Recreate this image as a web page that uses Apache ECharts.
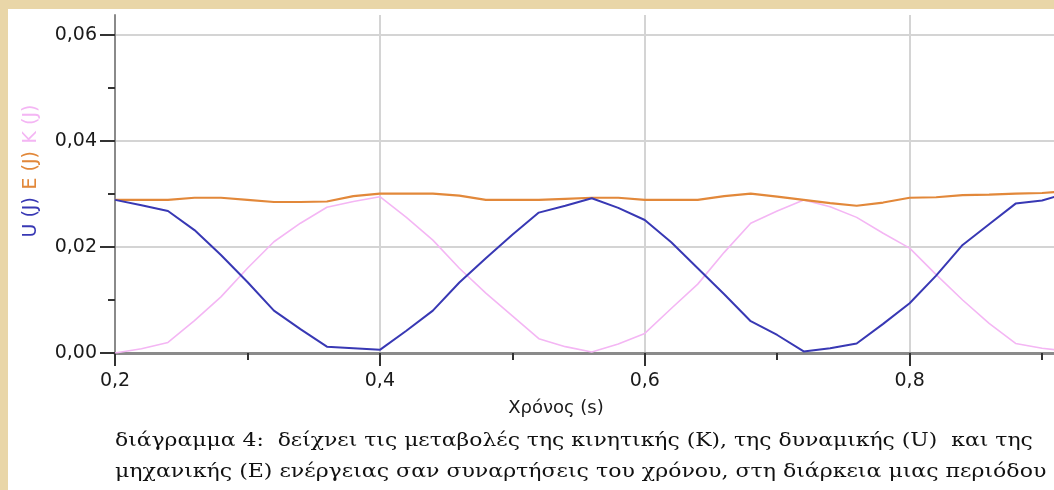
<!DOCTYPE html>
<html><head><meta charset="utf-8">
<script src="https://cdn.jsdelivr.net/npm/echarts@6/dist/echarts.min.js"></script>
<style>
html,body{margin:0;padding:0;width:1054px;height:490px;overflow:hidden;background:#e9d6a8;}
#panel{position:absolute;left:8px;top:9px;width:1046px;height:481px;background:#ffffff;}
#chart{position:absolute;left:0;top:0;width:1054px;height:490px;}
</style></head><body>
<div id="panel"></div>
<div id="chart"></div>
<script>
// time (s)
const time = [0.20,0.22,0.24,0.26,0.28,0.30,0.32,0.34,0.36,0.38,0.40,0.42,0.44,0.46,0.48,0.50,0.52,0.54,0.56,0.58,0.60,0.62,0.64,0.66,0.68,0.70,0.72,0.74,0.76,0.78,0.80,0.82,0.84,0.86,0.88,0.90,0.91];
// potential energy U (J)
const potentialU = [0.0289,0.0279,0.0268,0.0232,0.0185,0.0134,0.0080,0.0045,0.0012,0.0009,0.0006,0.0042,0.0080,0.0133,0.0179,0.0223,0.0265,0.0278,0.0292,0.0274,0.0251,0.0209,0.0160,0.0111,0.0060,0.0034,0.0003,0.0009,0.0018,0.0055,0.0094,0.0146,0.0204,0.0243,0.0282,0.0288,0.0295];
// kinetic energy K (J)
const kineticK = [0.0000,0.0008,0.0020,0.0061,0.0106,0.0160,0.0210,0.0245,0.0275,0.0286,0.0295,0.0256,0.0213,0.0160,0.0113,0.0070,0.0027,0.0012,0.0002,0.0017,0.0037,0.0084,0.0130,0.0190,0.0245,0.0268,0.0289,0.0276,0.0256,0.0226,0.0198,0.0148,0.0100,0.0056,0.0018,0.0009,0.0006];
// mechanical energy E (J)
const mechanicalE = [0.0289,0.0289,0.0289,0.0293,0.0293,0.0289,0.0285,0.0285,0.0286,0.0296,0.0301,0.0301,0.0301,0.0297,0.0289,0.0289,0.0289,0.0291,0.0293,0.0293,0.0289,0.0289,0.0289,0.0296,0.0301,0.0295,0.0289,0.0283,0.0278,0.0284,0.0293,0.0294,0.0298,0.0299,0.0301,0.0302,0.0304];

const xMajorTicks = [0.2,0.4,0.6,0.8];
const xMinorTicks = [0.3,0.5,0.7,0.9];
const yMajorTicks = [0,0.02,0.04,0.06];
const yMinorTicks = [0.01,0.03,0.05];
const xAxisTitle = 'Χρόνος (s)';
const yTitleU = 'U (J)', yTitleE = 'E (J)', yTitleK = 'K (J)';
const captionLines = [
  'διάγραμμα 4:  δείχνει τις μεταβολές της κινητικής (Κ), της δυναμικής (U)  και της',
  'μηχανικής (Ε) ενέργειας σαν συναρτήσεις του χρόνου, στη διάρκεια μιας περιόδου'
];

const colU = '#3838b4', colE = '#e2883a', colK = '#f4b6f4';
const xMin = 0.2, xMax = 0.909, yMin = 0, yMax = 0.0638;
const tickCol = '#333333';
const labelFont = {color:'#1a1a1a', fontFamily:'DejaVu Sans', fontSize:19};

const pairs = arr => time.map((t,i)=>[t, arr[i]]);

const chart = echarts.init(document.getElementById('chart'), null, {renderer:'canvas'});
chart.setOption({
  backgroundColor:'transparent',
  animation:false,
  grid:{left:115, right:0, top:15, bottom:137, outerBoundsMode:'none', containLabel:false},
  xAxis:[
    {type:'value', min:xMin, max:xMax, position:'bottom',
     axisLine:{onZero:false, lineStyle:{color:'#8a8a8a', width:3}},
     axisTick:{customValues:xMajorTicks, length:13, lineStyle:{color:tickCol, width:2}},
     axisLabel:Object.assign({customValues:xMajorTicks, margin:19, formatter:v=>v.toFixed(1).replace('.', ',')}, labelFont),
     splitLine:{show:true, lineStyle:{color:'#d4d4d4', width:2}}},
    {type:'value', min:xMin, max:xMax, position:'bottom',
     axisLine:{show:false, onZero:false},
     axisTick:{customValues:xMinorTicks, length:7, lineStyle:{color:tickCol, width:2}},
     axisLabel:{show:false}, splitLine:{show:false}}
  ],
  yAxis:[
    {type:'value', min:yMin, max:yMax, position:'left',
     axisLine:{show:true, onZero:false, lineStyle:{color:'#8a8a8a', width:2}},
     axisTick:{show:true, customValues:yMajorTicks, length:15, lineStyle:{color:tickCol, width:2}},
     axisLabel:Object.assign({customValues:yMajorTicks, margin:18, formatter:v=>v.toFixed(2).replace('.', ',')}, labelFont),
     splitLine:{show:true, lineStyle:{color:'#d4d4d4', width:2}}},
    {type:'value', min:yMin, max:yMax, position:'left',
     axisLine:{show:false, onZero:false},
     axisTick:{show:true, customValues:yMinorTicks, length:7, lineStyle:{color:tickCol, width:2}},
     axisLabel:{show:false}, splitLine:{show:false}}
  ],
  series:[
    {name:'K', type:'line', data:pairs(kineticK), showSymbol:false, symbol:'none', z:10,
     lineStyle:{color:colK, width:1.6}},
    {name:'E', type:'line', data:pairs(mechanicalE), showSymbol:false, symbol:'none', z:11,
     lineStyle:{color:colE, width:2.2}},
    {name:'U', type:'line', data:pairs(potentialU), showSymbol:false, symbol:'none', z:12,
     lineStyle:{color:colU, width:2}}
  ],
  graphic:[
    {type:'text', x:556, y:408, style:{text:xAxisTitle, align:'center', verticalAlign:'middle',
      fill:'#1a1a1a', font:'18px "DejaVu Sans"'}},
    {type:'text', x:31, y:171, rotation:Math.PI/2,
     style:{text:'{u|'+yTitleU+'}{s| }{e|'+yTitleE+'}{s| }{k|'+yTitleK+'}', align:'center', verticalAlign:'middle',
       rich:{u:{fill:colU, fontFamily:'DejaVu Sans', fontSize:19},
             e:{fill:colE, fontFamily:'DejaVu Sans', fontSize:19},
             k:{fill:colK, fontFamily:'DejaVu Sans', fontSize:19},
             s:{fontFamily:'DejaVu Sans', fontSize:24}}}},
    {type:'text', x:115, y:441, scaleX:1.152, style:{text:captionLines[0], align:'left', verticalAlign:'middle',
      fill:'#111111', font:'19px "DejaVu Serif"'}},
    {type:'text', x:115, y:472, scaleX:1.16, style:{text:captionLines[1], align:'left', verticalAlign:'middle',
      fill:'#111111', font:'19px "DejaVu Serif"'}}
  ]
});
</script>
</body></html>
